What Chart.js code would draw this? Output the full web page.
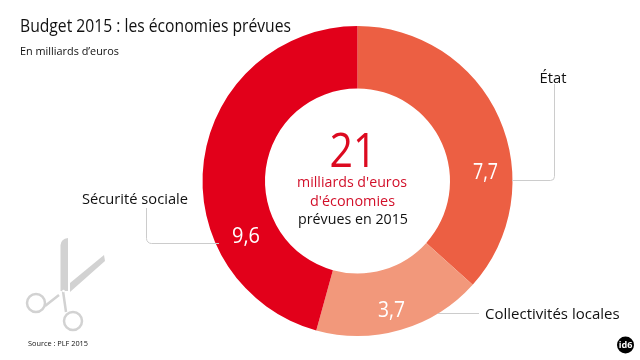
<!DOCTYPE html>
<html>
<head>
<meta charset="utf-8">
<title>Budget 2015</title>
<script src="https://cdn.jsdelivr.net/npm/chart.js@4"></script>
<style>
html, body { margin: 0; padding: 0; background: #fff; }
#wrap { width: 640px; height: 360px; }
</style>
</head>
<body>
<div id="wrap"><canvas id="chart" width="640" height="360"></canvas></div>
<script>
/* data */
const categories = ['État', 'Collectivités locales', 'Sécurité sociale'];
const values = [7.7, 3.7, 9.6];
const valueLabels = ['7,7', '3,7', '9,6'];
const sliceColors = ['#EC5F43', '#F2987B', '#E2001A'];

const FONT = '"Open Sans", sans-serif';

/* text + x, baseline, size, colour, align, max width */
function put(ctx, txt, x, y, size, color, align, maxW) {
	ctx.font = size + 'px ' + FONT;
	ctx.fillStyle = color;
	ctx.textAlign = align || 'left';
	ctx.textBaseline = 'alphabetic';
	ctx.fillText(txt, x, y, maxW);
}

function leaders(ctx) {
	ctx.strokeStyle = '#cccccc';
	ctx.lineWidth = 1;
	ctx.beginPath();
	ctx.moveTo(554.5, 84);
	ctx.arcTo(554.5, 180.5, 513, 180.5, 4);
	ctx.lineTo(512, 180.5);
	ctx.moveTo(146.5, 208);
	ctx.arcTo(146.5, 243.5, 219, 243.5, 5);
	ctx.lineTo(219, 243.5);
	ctx.moveTo(438, 313.5);
	ctx.lineTo(479, 313.5);
	ctx.stroke();
}

function scissors(ctx) {
	ctx.fillStyle = '#d2d2d2';
	ctx.strokeStyle = '#d2d2d2';
	ctx.beginPath();
	ctx.moveTo(60.5, 291);
	ctx.lineTo(60.5, 245);
	ctx.quadraticCurveTo(61, 239, 68, 238);
	ctx.lineTo(68, 291);
	ctx.closePath();
	ctx.fill();
	ctx.beginPath();
	ctx.moveTo(70, 283);
	ctx.lineTo(104, 255);
	ctx.lineTo(105, 261);
	ctx.lineTo(70, 292);
	ctx.closePath();
	ctx.fill();
	ctx.lineWidth = 2.5;
	ctx.beginPath();
	ctx.moveTo(63, 291);
	ctx.lineTo(66, 312);
	ctx.moveTo(45, 306);
	ctx.lineTo(59, 295);
	ctx.stroke();
	ctx.beginPath();
	ctx.arc(36, 303, 9, 0, Math.PI * 2);
	ctx.moveTo(82, 321);
	ctx.arc(73, 321, 9, 0, Math.PI * 2);
	ctx.stroke();
	ctx.fillStyle = '#fff';
	ctx.beginPath();
	ctx.arc(63.5, 291, 1.3, 0, Math.PI * 2);
	ctx.fill();
}

function logo(ctx) {
	ctx.fillStyle = '#000';
	ctx.beginPath();
	ctx.arc(625.5, 345, 8.5, 0, Math.PI * 2);
	ctx.fill();
	ctx.font = 'bold 9px ' + FONT;
	ctx.fillStyle = '#fff';
	ctx.textAlign = 'center';
	ctx.fillText('id6', 625.5, 348, 14);
}

const decorations = {
	id: 'decorations',
	afterDraw(chart) {
		const ctx = chart.ctx;
		ctx.save();
		leaders(ctx);
		scissors(ctx);
		logo(ctx);

		put(ctx, 'Budget 2015 : les économies prévues', 20, 32, 18, '#111', 'left', 271);
		put(ctx, 'En milliards d\u2019euros', 20, 55, 11, '#111', 'left', 99);
		put(ctx, 'Source : PLF 2015', 28, 346, 8, '#111', 'left', 60);

		put(ctx, '21', 353, 167, 47, '#DC0A20', 'center', 47);
		put(ctx, "milliards d'euros", 352, 187, 15, '#D2102A', 'center', 110);
		put(ctx, "d'économies", 352.5, 206, 15, '#D2102A', 'center', 85);
		put(ctx, 'prévues en 2015', 353, 224, 15, '#111', 'center', 110);

		put(ctx, categories[0], 553, 83, 15, '#111', 'center', 27);
		put(ctx, categories[1], 485, 319, 15, '#111', 'left', 135);
		put(ctx, categories[2], 82, 204, 15, '#111', 'left', 106);

		put(ctx, valueLabels[0], 485.5, 179, 21, '#fff', 'center', 25);
		put(ctx, valueLabels[1], 391.5, 317, 22, '#fff', 'center', 27);
		put(ctx, valueLabels[2], 246, 243, 22, '#fff', 'center', 28);
		ctx.restore();
	}
};

new Chart(document.getElementById('chart'), {
	type: 'doughnut',
	data: {
		labels: categories,
		datasets: [{
			data: values,
			backgroundColor: sliceColors,
			borderWidth: 0
		}]
	},
	options: {
		responsive: false,
		animation: false,
		cutout: 92.5,
		layout: { padding: { left: 202.5, right: 127.5, top: 26, bottom: 24 } },
		plugins: {
			legend: { display: false },
			tooltip: { enabled: false }
		}
	},
	plugins: [decorations]
});
</script>
</body>
</html>
